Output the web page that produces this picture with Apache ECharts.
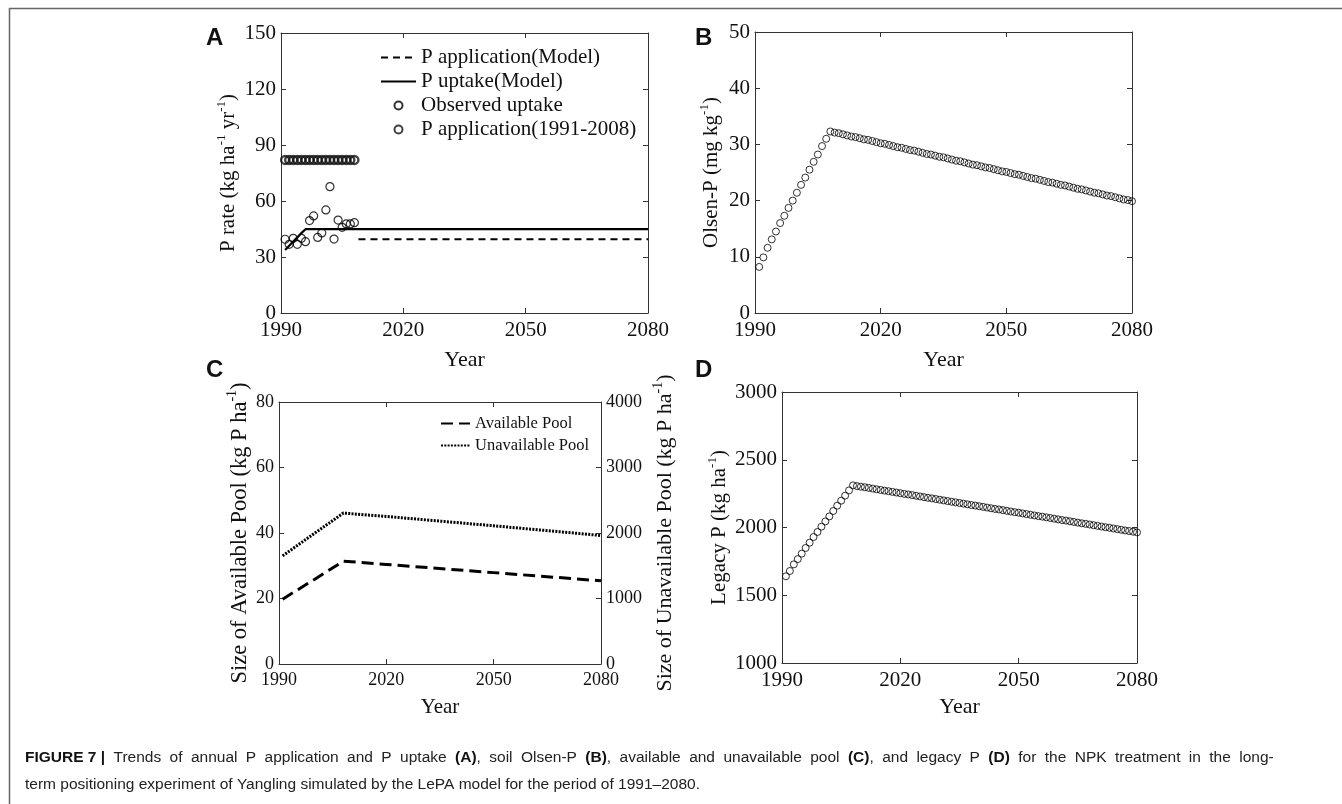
<!DOCTYPE html>
<html lang="en">
<head>
    <meta charset="utf-8">
    <title>Figure 7 - LePA model trends</title>
    <script src="https://cdn.jsdelivr.net/npm/echarts@6/dist/echarts.min.js"></script>
    <style>
        html, body { margin: 0; padding: 0; background: #fff; }
        #chart { width: 1342px; height: 804px; }
    </style>
</head>
<body>
<div id="chart"></div>

<script>
    // years of the simulation, one point per year
    var years = [];
    for (var y = 1991; y <= 2080; y++) years.push(y);

    var yearTicks = [1990, 2020, 2050, 2080];

    // panel A
    var obsYears = [1991, 1992, 1993, 1994, 1995, 1996, 1997, 1998, 1999, 2000, 2001, 2002, 2003, 2004, 2005, 2006, 2007, 2008];
    var obsUptake = [39.5, 36.8, 40.0, 36.8, 40.0, 38.2, 49.5, 52.0, 40.5, 42.9, 55.2, 67.7, 39.6, 49.8, 45.9, 47.7, 47.7, 48.4];
    var obsApplication = [82, 82, 82, 82, 82, 82, 82, 82, 82, 82, 82, 82, 82, 82, 82, 82, 82, 82];
    var uptakeModelYears = [1991, 1992, 1993, 1994, 1995, 1996, 2080];
    var uptakeModel = [33.7, 36.0, 38.3, 40.5, 42.8, 44.9, 44.9];
    var appModelYears = [2009, 2080];
    var appModel = [39.5, 39.5];

    // panel B
    var olsenP = [8.2, 9.9, 11.6, 13.1, 14.5, 16.0, 17.3, 18.7, 20.0, 21.4, 22.8, 24.1, 25.5, 26.9, 28.2, 29.7, 31.0, 32.3,
        32.1, 32.0, 31.8, 31.6, 31.4, 31.3, 31.1, 30.9, 30.8, 30.6,
        30.4, 30.2, 30.1, 29.9, 29.7, 29.5, 29.4, 29.2, 29.0, 28.9,
        28.7, 28.5, 28.3, 28.2, 28.0, 27.8, 27.7, 27.5, 27.3, 27.1,
        27.0, 26.8, 26.6, 26.4, 26.3, 26.1, 25.9, 25.8, 25.6, 25.4,
        25.2, 25.1, 24.9, 24.7, 24.6, 24.4, 24.2, 24.0, 23.9, 23.7,
        23.5, 23.3, 23.2, 23.0, 22.8, 22.7, 22.5, 22.3, 22.1, 22.0,
        21.8, 21.6, 21.4, 21.3, 21.1, 20.9, 20.8, 20.6, 20.4, 20.2,
        20.1, 19.9];

    // panel C
    var poolYears = [1991, 2000, 2008, 2020, 2050, 2080];
    var availablePool = [19.8, 25.9, 31.4, 30.4, 27.9, 25.4];
    var unavailablePool = [1651, 1998, 2304, 2253, 2110, 1962];

    // panel D
    var legacyP = [1640, 1679, 1728, 1767, 1807, 1849, 1888, 1930, 1967, 2006, 2045, 2082, 2122, 2161, 2198, 2235, 2274, 2311,
        2306, 2301, 2297, 2292, 2287, 2282, 2277, 2272, 2268, 2263,
        2258, 2253, 2248, 2244, 2239, 2234, 2229, 2224, 2219, 2215,
        2210, 2205, 2200, 2195, 2190, 2186, 2181, 2176, 2171, 2166,
        2162, 2157, 2152, 2147, 2142, 2137, 2133, 2128, 2123, 2118,
        2113, 2109, 2104, 2099, 2094, 2089, 2084, 2080, 2075, 2070,
        2065, 2060, 2055, 2051, 2046, 2041, 2036, 2031, 2027, 2022,
        2017, 2012, 2007, 2002, 1998, 1993, 1988, 1983, 1978, 1974,
        1969, 1964];

    function pairs(xs, ys) {
        var out = [];
        for (var i = 0; i < xs.length; i++) out.push([xs[i], ys[i]]);
        return out;
    }

    var serif = 'Liberation Serif';
    var axisColor = '#333';
    var plain = function (v) { return String(v); };

    function supName(parts) {
        // parts: array of [text, isSup]
        return parts.map(function (p) { return '{' + (p[1] ? 's' : 'n') + '|' + p[0] + '}'; }).join('');
    }
    function nameStyle(size) {
        return {
            fontFamily: serif, color: '#111', fontSize: size,
            rich: {
                n: { fontFamily: serif, fontSize: size, color: '#111', lineHeight: size + 6 },
                s: { fontFamily: serif, fontSize: Math.round(size * 0.62), color: '#111', verticalAlign: 'top', lineHeight: Math.round(size * 0.62) }
            }
        };
    }

    function xAxisFor(grid, fontSize, nameSize, nameGap) {
        return [
            {
                gridIndex: grid, type: 'value', min: 1990, max: 2080,
                axisLine: { show: true, onZero: false, lineStyle: { color: axisColor, width: 1 } },
                axisTick: { show: true, inside: true, length: 5, customValues: yearTicks, lineStyle: { color: axisColor } },
                axisLabel: { customValues: yearTicks, formatter: plain, fontFamily: serif, fontSize: fontSize, color: '#111', margin: 7 },
                splitLine: { show: false },
                name: 'Year', nameLocation: 'middle', nameGap: nameGap,
                nameTextStyle: { fontFamily: serif, fontSize: nameSize, color: '#111' }
            },
            {
                gridIndex: grid, type: 'value', min: 1990, max: 2080, position: 'top',
                axisLine: { show: true, onZero: false, lineStyle: { color: axisColor, width: 1 } },
                axisTick: { show: true, inside: true, length: 5, customValues: yearTicks, lineStyle: { color: axisColor } },
                axisLabel: { show: false },
                splitLine: { show: false }
            }
        ];
    }

    function yAxisFor(grid, min, max, interval, fontSize, name, nameSize, nameGap) {
        return {
            gridIndex: grid, type: 'value', min: min, max: max, interval: interval, position: 'left',
            axisLine: { show: true, lineStyle: { color: axisColor, width: 1 } },
            axisTick: { show: true, inside: true, length: 5, lineStyle: { color: axisColor } },
            axisLabel: { formatter: plain, fontFamily: serif, fontSize: fontSize, color: '#111', margin: 5 },
            splitLine: { show: false },
            name: name, nameLocation: 'middle', nameGap: nameGap,
            nameTextStyle: nameStyle(nameSize)
        };
    }

    function frameY(grid, min, max, interval) {
        return {
            gridIndex: grid, type: 'value', min: min, max: max, interval: interval, position: 'right',
            axisLine: { show: true, lineStyle: { color: axisColor, width: 1 } },
            axisTick: { show: true, inside: true, length: 5, lineStyle: { color: axisColor } },
            axisLabel: { show: false },
            splitLine: { show: false }
        };
    }

    var openCircle = { color: 'rgba(0,0,0,0)', borderColor: '#000', borderWidth: 1 };
    var noSymbol = { color: 'rgba(0,0,0,0)', borderWidth: 0 };

    // caption, first line justified like the journal layout
    var capWords = ['Trends', 'of', 'annual', 'P', 'application', 'and', 'P', 'uptake', '{b|(A)},', 'soil', 'Olsen-P', '{b|(B)},',
        'available', 'and', 'unavailable', 'pool', '{b|(C)},', 'and', 'legacy', 'P', '{b|(D)}', 'for', 'the', 'NPK',
        'treatment', 'in', 'the', 'long-'];
    var capLine1 = '{b|FIGURE 7 |}{sp| }' + capWords.join('{sp| }');
    var capLine2 = 'term positioning experiment of Yangling simulated by the LePA model for the period of 1991\u20132080.';

    var myChart = echarts.init(document.getElementById('chart'), null, { renderer: 'canvas' });

    var option = {
        animation: false,
        backgroundColor: '#fff',
        grid: [
            { left: 281, top: 33, width: 367, height: 280 },
            { left: 755, top: 32, width: 377, height: 281 },
            { left: 279, top: 402, width: 322, height: 262 },
            { left: 782, top: 392, width: 355, height: 271 }
        ],
        xAxis: [].concat(
            xAxisFor(0, 21, 22, 36),
            xAxisFor(1, 21, 22, 36),
            xAxisFor(2, 18, 21, 33),
            xAxisFor(3, 21, 22, 33)
        ),
        yAxis: [
            yAxisFor(0, 0, 150, 30, 21,
                supName([['P rate (kg ha'], ['-1', 1], [' yr'], ['-1', 1], [')']]), 21, 39),
            frameY(0, 0, 150, 30),
            yAxisFor(1, 0, 50, 10, 21,
                supName([['Olsen-P (mg kg'], ['-1', 1], [')']]), 21, 30),
            frameY(1, 0, 50, 10),
            yAxisFor(2, 0, 80, 20, 18,
                supName([['Size of Available Pool (kg P ha'], ['-1', 1], [')']]), 22.5, 25),
            {
                gridIndex: 2, type: 'value', min: 0, max: 4000, interval: 1000, position: 'right',
                axisLine: { show: true, lineStyle: { color: axisColor, width: 1 } },
                axisTick: { show: true, inside: true, length: 5, lineStyle: { color: axisColor } },
                axisLabel: { formatter: plain, fontFamily: serif, fontSize: 18, color: '#111', margin: 5 },
                splitLine: { show: false },
                name: supName([['Size of Unavailable Pool (kg P ha'], ['-1', 1], [')']]),
                nameLocation: 'middle', nameGap: 50, nameRotate: 90,
                nameTextStyle: nameStyle(22)
            },
            yAxisFor(3, 1000, 3000, 500, 21,
                supName([['Legacy P (kg ha'], ['-1', 1], [')']]), 21, 49),
            frameY(3, 1000, 3000, 500)
        ],
        legend: [
            {
                orient: 'vertical', left: 375, top: 42,
                itemWidth: 35, itemHeight: 8, itemGap: 3,
                textStyle: { fontFamily: serif, fontSize: 21, color: '#111' },
                data: ['P application(Model)', 'P uptake(Model)', 'Observed uptake', 'P application(1991-2008)']
            },
            {
                orient: 'vertical', left: 435, top: 410,
                itemWidth: 29, itemHeight: 8, itemGap: 5,
                textStyle: { fontFamily: serif, fontSize: 16.5, color: '#111' },
                data: ['Available Pool', 'Unavailable Pool']
            }
        ],
        series: [
            {
                name: 'P application(Model)', type: 'line', xAxisIndex: 0, yAxisIndex: 0,
                data: pairs(appModelYears, appModel), symbol: 'none', itemStyle: noSymbol,
                lineStyle: { color: '#000', width: 2.2, type: [7, 5] }
            },
            {
                name: 'P uptake(Model)', type: 'line', xAxisIndex: 0, yAxisIndex: 0,
                data: pairs(uptakeModelYears, uptakeModel), symbol: 'none', itemStyle: noSymbol,
                lineStyle: { color: '#000', width: 2.2, type: 'solid' }
            },
            {
                name: 'Observed uptake', type: 'scatter', xAxisIndex: 0, yAxisIndex: 0, clip: false,
                data: pairs(obsYears, obsUptake), symbol: 'circle', symbolSize: 8,
                itemStyle: { color: 'rgba(0,0,0,0)', borderColor: '#000', borderWidth: 1.2 }
            },
            {
                name: 'P application(1991-2008)', type: 'scatter', xAxisIndex: 0, yAxisIndex: 0, clip: false,
                data: pairs(obsYears, obsApplication), symbol: 'circle', symbolSize: 8,
                itemStyle: { color: 'rgba(0,0,0,0)', borderColor: '#111', borderWidth: 2.4 }
            },
            {
                name: 'Olsen-P', type: 'scatter', xAxisIndex: 2, yAxisIndex: 2, clip: false,
                data: pairs(years, olsenP), symbol: 'circle', symbolSize: 7,
                itemStyle: openCircle
            },
            {
                name: 'Available Pool', type: 'line', xAxisIndex: 4, yAxisIndex: 4,
                data: pairs(poolYears, availablePool), symbol: 'none', itemStyle: noSymbol,
                lineStyle: { color: '#000', width: 3, type: [12, 6] }
            },
            {
                name: 'Unavailable Pool', type: 'line', xAxisIndex: 4, yAxisIndex: 5,
                data: pairs(poolYears, unavailablePool), symbol: 'none', itemStyle: noSymbol,
                lineStyle: { color: '#000', width: 3, type: [2, 1.3] }
            },
            {
                name: 'Legacy P', type: 'scatter', xAxisIndex: 6, yAxisIndex: 6, clip: false,
                data: pairs(years, legacyP), symbol: 'circle', symbolSize: 7,
                itemStyle: openCircle
            }
        ],
        graphic: [
            // figure frame
            { type: 'line', shape: { x1: 9, y1: 8.5, x2: 1342, y2: 8.5 }, style: { stroke: '#666', lineWidth: 1.5 } },
            { type: 'line', shape: { x1: 9.5, y1: 8, x2: 9.5, y2: 804 }, style: { stroke: '#666', lineWidth: 1.5 } },
            // panel letters
            { type: 'text', left: 206, top: 26, style: { text: 'A', font: 'bold 24px "Liberation Sans"', fill: '#111' } },
            { type: 'text', left: 695, top: 26, style: { text: 'B', font: 'bold 24px "Liberation Sans"', fill: '#111' } },
            { type: 'text', left: 206, top: 358, style: { text: 'C', font: 'bold 24px "Liberation Sans"', fill: '#111' } },
            { type: 'text', left: 695, top: 358, style: { text: 'D', font: 'bold 24px "Liberation Sans"', fill: '#111' } },
            // caption
            {
                type: 'text', left: 25, top: 744,
                style: {
                    text: capLine1 + '\n' + capLine2,
                    font: '15.5px "Liberation Sans"', fill: '#222', lineHeight: 27,
                    rich: {
                        b: { font: 'bold 15.5px "Liberation Sans"', fill: '#111', lineHeight: 27 },
                        sp: { font: '15.5px "Liberation Sans"', width: 8.4, lineHeight: 27 }
                    }
                }
            }
        ]
    };

    myChart.setOption(option);
</script>
</body>
</html>
